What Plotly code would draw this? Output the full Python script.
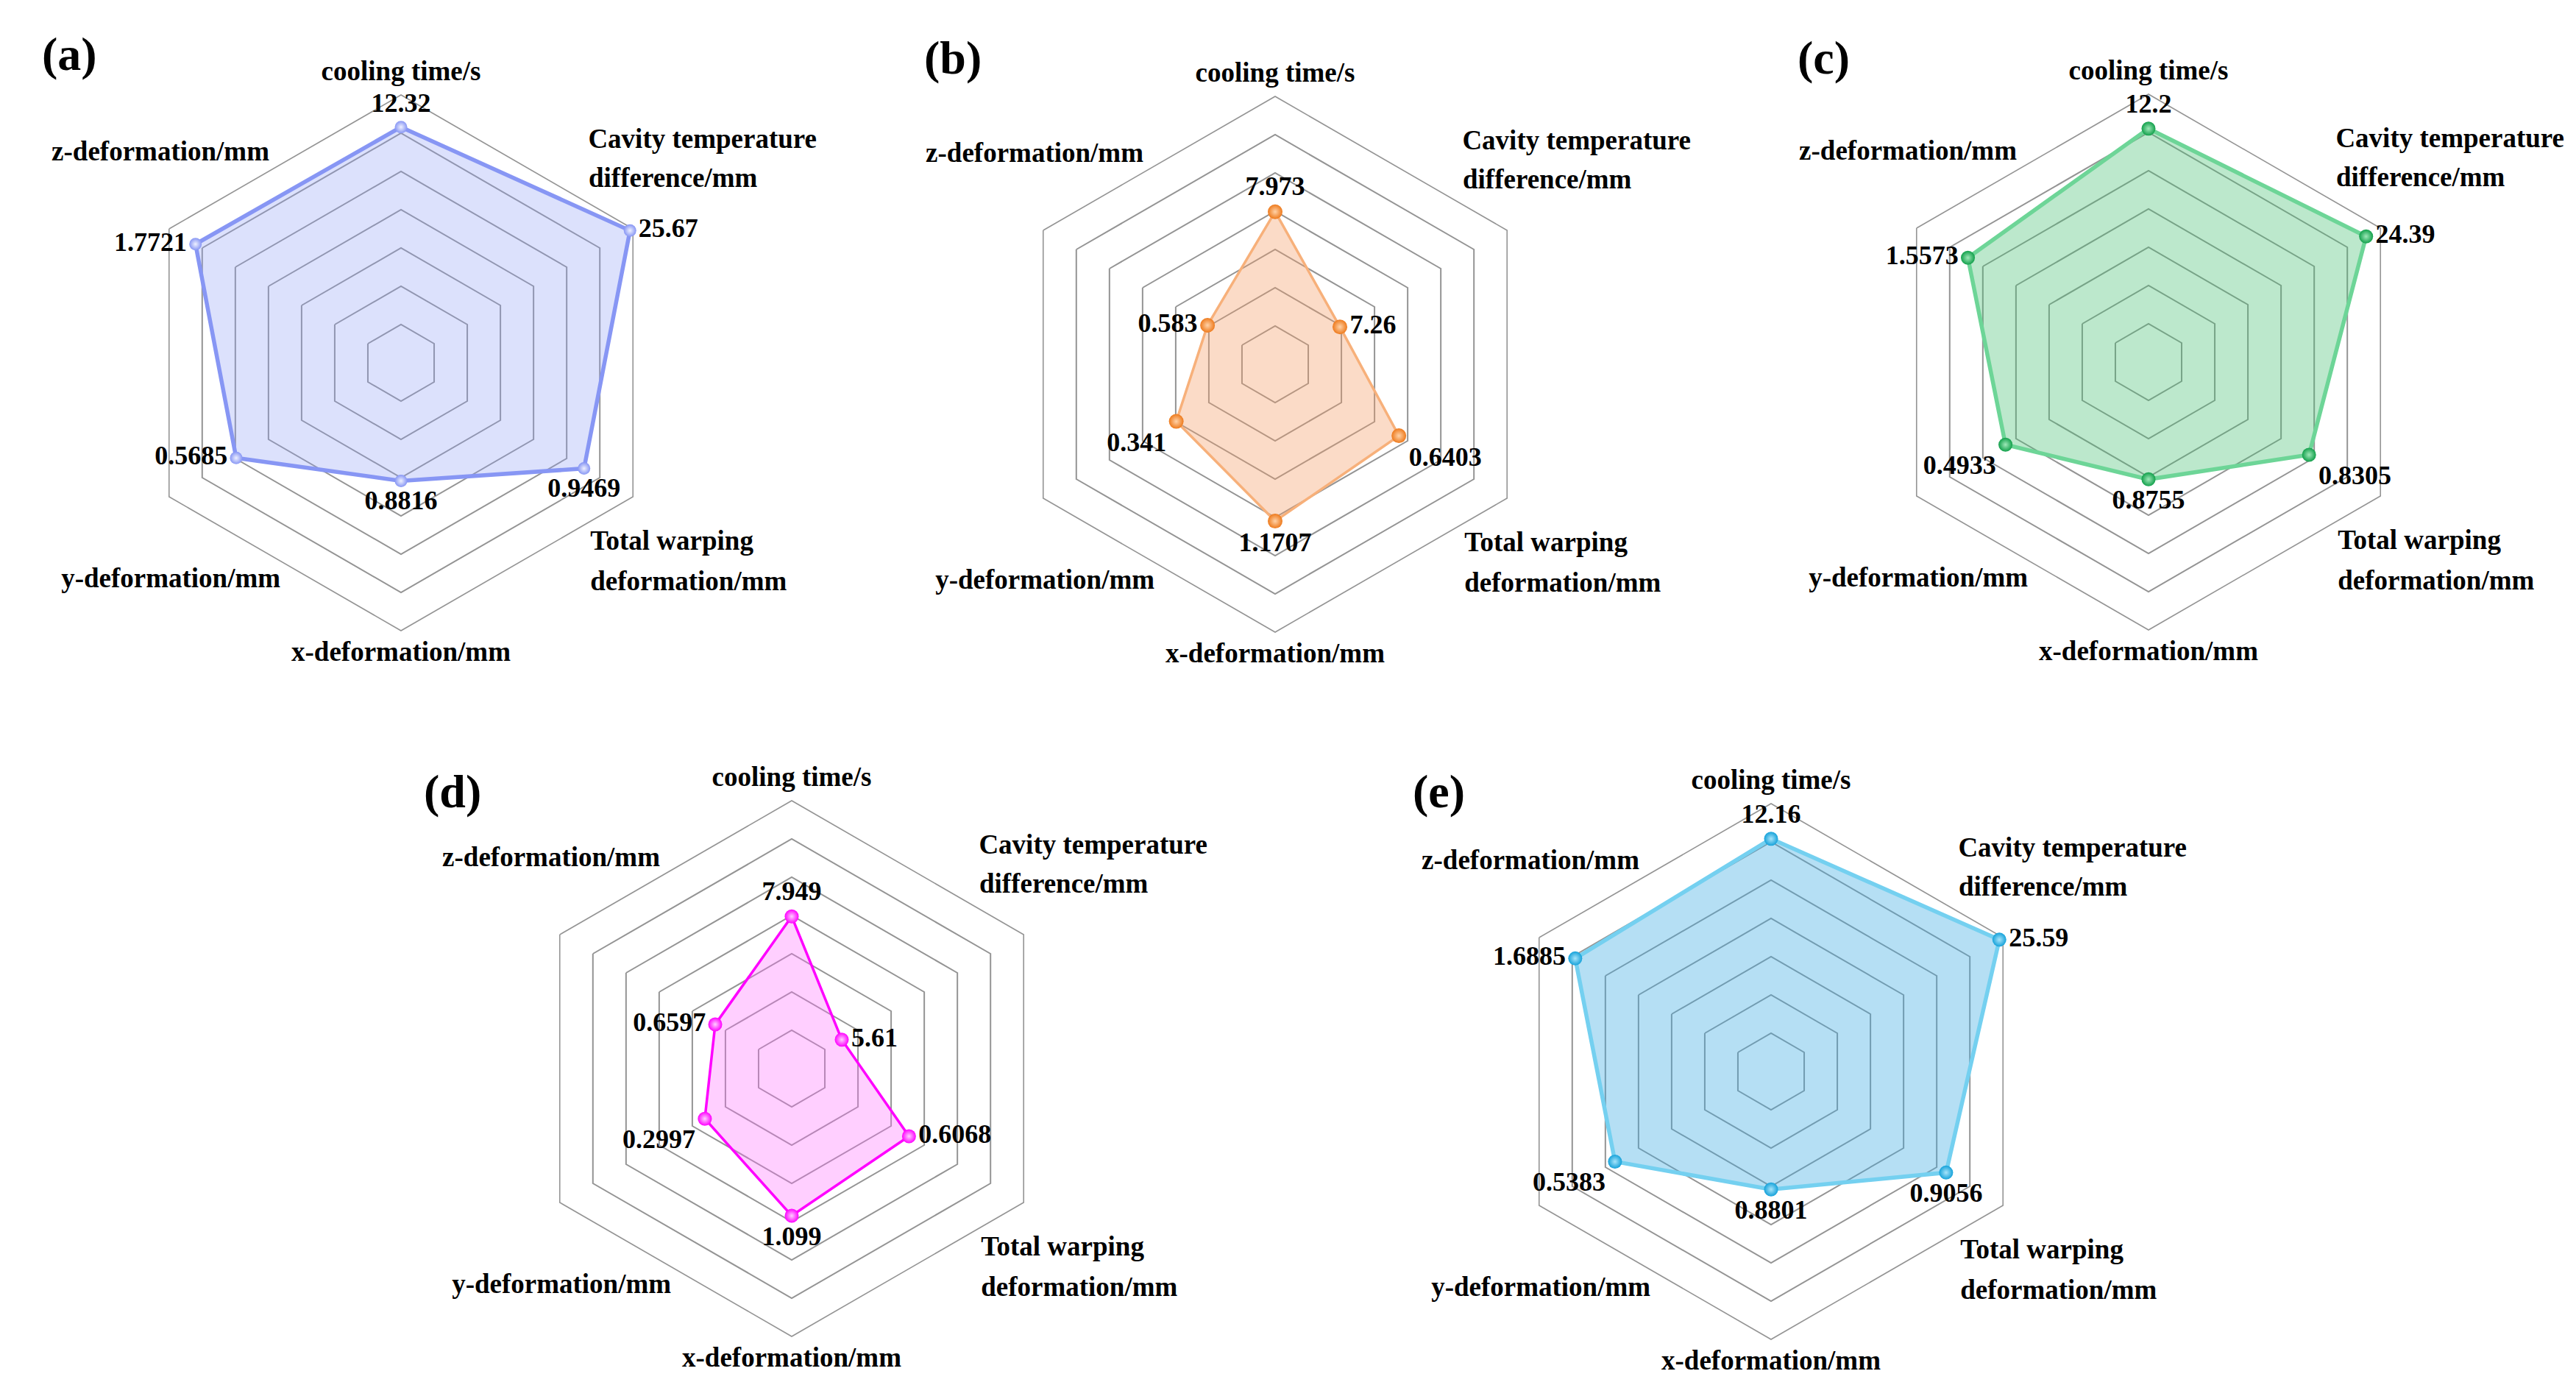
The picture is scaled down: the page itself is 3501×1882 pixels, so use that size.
import plotly.graph_objects as go

# ---------------- data ----------------
categories = ["cooling time/s",
              "Cavity temperature<br>difference/mm",
              "Total warping<br>deformation/mm",
              "x-deformation/mm",
              "y-deformation/mm",
              "z-deformation/mm"]
axis_max = [14, 26, 1.2, 2.0, 0.8, 2.0]      # full-scale value of each spoke
ring_levels = [1, 2, 3, 4, 5, 6, 7]           # hexagonal grid rings

panel_labels = ["(a)", "(b)", "(c)", "(d)", "(e)"]
values_a = [12.32, 25.67, 0.9469, 0.8816, 0.5685, 1.7721]
values_b = [7.973, 7.26, 0.6403, 1.1707, 0.341, 0.583]
values_c = [12.2, 24.39, 0.8305, 0.8755, 0.4933, 1.5573]
values_d = [7.949, 5.61, 0.6068, 1.099, 0.2997, 0.6597]
values_e = [12.16, 25.59, 0.9056, 0.8801, 0.5383, 1.6885]
series = [values_a, values_b, values_c, values_d, values_e]

# ---------------- layout / style ----------------
W, H = 3501, 1882
R = 364
OVER_MAX = 7.7          # radial extent of the overlay polar used for category names
centers = [(537, 485), (1725, 487), (2912, 484), (1068, 1444), (2399, 1448)]
panel_label_offsets = [(-451, -420), (-438, -416), (-442, -413), (-461, -377), (-451, -381)]

styles = [
    dict(line="#8796f4", lw=5.5, marker="#8796f4", inner="#eef0ff", ms=17, fill="rgba(140,155,245,0.30)"),
    dict(line="#f7b07a", lw=3.5, marker="#ee7a1c", inner="#ffd2a8", ms=20, fill="rgba(245,155,100,0.36)"),
    dict(line="#6dd597", lw=5.5, marker="#12a04b", inner="#9ee8b8", ms=19, fill="rgba(70,190,115,0.36)"),
    dict(line="#ff00ff", lw=3.5, marker="#ff00ff", inner="#ffd0ff", ms=19, fill="rgba(255,110,255,0.33)"),
    dict(line="#74d0f0", lw=5.5, marker="#15a2da", inner="#a8e4fa", ms=19, fill="rgba(60,170,225,0.38)"),
]
value_positions = [
    ["top center", "middle right", "bottom center", "bottom center", "middle left", "middle left"],
    ["top center", "middle right", "bottom right", "bottom center", "bottom left", "middle left"],
    ["top center", "middle right", "bottom right", "bottom center", "bottom left", "middle left"],
    ["top center", "middle right", "middle right", "bottom center", "bottom left", "middle left"],
    ["top center", "middle right", "bottom center", "bottom center", "bottom left", "middle left"],
]
# placement of category-name lines on the overlay polar (theta deg clockwise from top, r in ring units)
label_slots = [
    [(0, 7.56, "middle center")],
    [(40.2, 7.58, "middle right"), (45.8, 6.84, "middle right")],
    [(133.6, 6.83, "middle right"), (139.4, 7.60, "middle right")],
    [(180, 7.62, "middle center")],
    [(209.0, 6.50, "middle left")],
    [(327.8, 6.46, "middle left")],
]

FONT = "Liberation Serif"
grid_col = "#949494"

fig = go.Figure()
layout = dict(width=W, height=H, margin=dict(l=0, r=0, t=0, b=0),
              paper_bgcolor="white", plot_bgcolor="white", showlegend=False,
              annotations=[])

rmax = ring_levels[-1]
for i, vals in enumerate(series):
    cx, cy = centers[i]
    dom = dict(x=[(cx - R) / W, (cx + R) / W], y=[1 - (cy + R) / H, 1 - (cy - R) / H])
    Ro = R * OVER_MAX / rmax
    dom_o = dict(x=[(cx - Ro) / W, (cx + Ro) / W], y=[1 - (cy + Ro) / H, 1 - (cy - Ro) / H])
    main = f"polar{2 * i + 1}" if i else "polar"
    over = f"polar{2 * i + 2}"
    st = styles[i]
    r_norm = [v / m * rmax for v, m in zip(vals, axis_max)]

    # filled polygon + outline
    fig.add_trace(go.Scatterpolar(
        r=r_norm + r_norm[:1], theta=categories + categories[:1], mode="lines",
        fill="toself", fillcolor=st["fill"],
        line=dict(color=st["line"], width=st["lw"]),
        subplot=main, hoverinfo="skip"))
    # markers + value labels
    fig.add_trace(go.Scatterpolar(
        r=r_norm, theta=categories, mode="markers+text",
        marker=dict(size=st["ms"], color=st["marker"],
                    gradient=dict(type="radial", color=st["inner"]),
                    line=dict(width=0)),
        text=[str(v) for v in vals], textposition=value_positions[i],
        textfont=dict(family=FONT, size=36, color="black", weight="bold"),
        cliponaxis=False, subplot=main))

    # category names (overlay polar with plain angular scale)
    th, rr, tx, tp = [], [], [], []
    for name, slots in zip(categories, label_slots):
        for line_txt, (t, r, pos) in zip(name.split("<br>"), slots):
            th.append(t); rr.append(r); tx.append(line_txt); tp.append(pos)
    fig.add_trace(go.Scatterpolar(
        r=rr, theta=th, mode="text", text=tx, textposition=tp,
        textfont=dict(family=FONT, size=37, color="black", weight="bold"),
        cliponaxis=False, subplot=over, hoverinfo="skip"))

    layout[main] = dict(
        domain=dom, bgcolor="rgba(0,0,0,0)", gridshape="linear",
        radialaxis=dict(range=[0, rmax], tickvals=ring_levels[:-1], showticklabels=False,
                        ticks="", showline=False, gridcolor=grid_col, gridwidth=1.6,
                        layer="below traces"),
        angularaxis=dict(categoryorder="array", categoryarray=categories, rotation=90,
                         direction="clockwise", showgrid=False, showticklabels=False,
                         ticks="", showline=True, linecolor=grid_col, linewidth=1.6,
                         layer="below traces"))
    layout[over] = dict(
        domain=dom_o, bgcolor="rgba(0,0,0,0)",
        radialaxis=dict(range=[0, OVER_MAX], visible=False),
        angularaxis=dict(type="linear", rotation=90, direction="clockwise", visible=False))

    dx, dy = panel_label_offsets[i]
    layout["annotations"].append(dict(
        text=panel_labels[i], xref="paper", yref="paper",
        x=(cx + dx) / W, y=1 - (cy + dy) / H, xanchor="center", yanchor="middle",
        showarrow=False, font=dict(family=FONT, size=64, color="black", weight="bold")))

fig.update_layout(**layout)
fig.write_html("out.html")
